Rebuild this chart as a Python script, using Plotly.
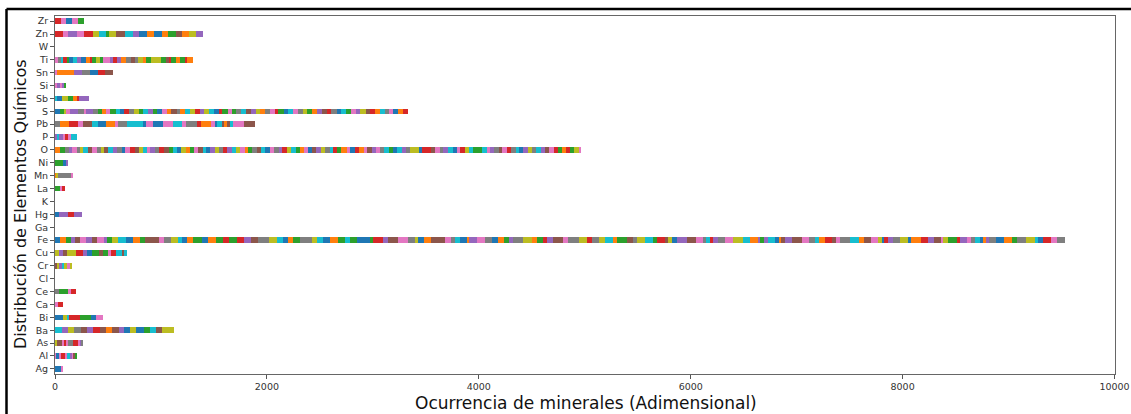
import numpy as np
import plotly.graph_objects as go

# Chemical elements on the vertical axis (bottom to top)
elements = ["Ag", "Al", "As", "Ba", "Bi", "Ca", "Ce", "Cl", "Cr", "Cu", "Fe", "Ga",
            "Hg", "K", "La", "Mn", "Ni", "O", "P", "Pb", "S", "Sb", "Si", "Sn",
            "Ti", "W", "Zn", "Zr"]

# Per-element mineral occurrences (one stacked segment per mineral) and the
# colour letter of each segment
seg_Ag = [63, 13]
col_Ag = "bk"
seg_Al = [13, 25, 19, 38, 19, 31, 13, 19, 13, 16]
col_Al = "kbkrkcpkng"
seg_As = [22, 47, 16, 19, 22, 47, 47, 16, 16, 16]
col_As = "lnkrkyrkpy"
seg_Ba = [63, 63, 54, 63, 57, 63, 57, 60, 57, 63, 54, 57, 57, 69, 57, 57, 63, 110]
col_Ba = "cplynprnonpblbgcnl"
seg_Bi = [72, 47, 16, 101, 101, 47, 72]
col_Bi = "blcrgbk"
seg_Ca = [31, 47]
col_Ca = "kr"
seg_Ce = [41, 79, 28, 50]
col_Ce = "ygkr"
seg_Cl = []
col_Cl = ""
seg_Cr = [16, 25, 22, 22, 25, 31, 22]
col_Cr = "nlpclkl"
seg_Cu = [41, 38, 31, 88, 69, 38, 41, 72, 31, 47, 31, 47, 63, 16, 22]
col_Cu = "lpnlrpbgngkrcnc"
seg_Fe = [47, 57, 44, 41, 47, 57, 54, 54, 57, 31, 47, 54, 82, 63, 69, 47, 126, 47, 69, 72,
          31, 47, 63, 79, 63, 72, 63, 63, 69, 69, 63, 72, 104, 69, 63, 47, 47, 63, 110, 47,
          57, 69, 79, 63, 47, 63, 126, 31, 89,
          54, 94, 94, 63, 31, 54, 63, 135, 54, 41, 47, 63, 25, 69, 79, 63, 63, 54, 50, 38,
          94, 79, 47, 63, 31, 63, 88, 54, 104, 69, 47, 72, 54, 72, 38, 94, 63, 38, 72, 72,
          44, 72, 31, 31, 54, 94, 82, 63, 31, 38, 31, 47, 63, 79, 94, 63, 79, 16,
          38, 41, 63, 41, 13, 41, 63, 94, 72, 54, 41, 54, 63, 41, 38, 94, 88, 44, 63, 72,
          31, 22, 41, 47, 63, 72, 28, 94, 66, 60, 63, 25, 47, 79, 31, 63, 38, 41, 47, 31,
          25, 31, 69, 69, 79, 47, 82, 85, 31, 47, 79, 57, 67]
col_Fe = ("bogpnkpnkpglcbognkylcbogbogrgrpnylcbogylcbogcgbg" + "r"
          + "pnkylbonkycbopkybogpylogrpnkylrylcognylcgrnlbpnkycrpyklcop"
          + "gpcbonpnkycornkyconklbrpylborpnklgrpkycbopybogylcbrky")
seg_Ga = []
col_Ga = ""
seg_Hg = [41, 79, 60, 79]
col_Hg = "bprp"
seg_K = []
col_K = ""
seg_La = [47, 22, 28]
col_La = "gkr"
seg_Mn = [16, 16, 120, 9]
col_Mn = "olyk"
seg_Ni = [72, 31, 22]
col_Ni = "gbp"
seg_O = [44, 47, 38, 35, 41, 32, 30, 44, 38, 47,
         35, 28, 44, 41, 38, 50, 32, 41, 47, 38,
         41, 38, 32, 47, 35, 44, 50, 38, 35, 41,
         47, 32, 38, 44, 41, 28, 38, 50, 35, 44,
         38, 44, 35, 41, 47, 32, 38, 44, 41, 35,
         44, 38, 50, 32, 41, 38, 47, 35, 41, 38,
         35, 41, 44, 38, 47, 32, 41, 38, 50, 35,
         41, 38, 47, 35, 44, 32, 38, 41, 50, 35,
         38, 44, 41, 35, 47, 38, 32, 44, 41, 38,
         44, 35, 41, 50, 38, 32, 44, 41, 35, 38,
         41, 47, 35, 38, 44, 32, 41, 38, 47, 35,
         38, 44, 41, 35, 50, 32, 38, 44, 41, 38,
         35, 41, 38, 44, 20]
col_O = ("ogypkylcnkylncpybkrnlckpyrngcblogkncbplyrpclkogyncbkyprlcgok"
         "bnplycrgokbroknpkycgbcpyllbrrnkypcbkrlcggckpynkrycbplycpnkrgorglk")
seg_P = [22, 19, 31, 22, 25, 31, 54]
col_P = "pcpkrkc"
seg_Pb = [47, 85, 82, 47, 85, 63, 72, 85, 31, 85, 151, 25, 69, 94, 94, 88, 38, 101,
          35, 91, 41, 22, 41, 22, 25, 31, 31, 101, 110]
col_Pb = "yorkncbokycbkbkckyrokbcnonckn"
seg_S = [47, 38, 19, 35, 79, 54, 22, 63, 50, 38,
         41, 35, 50, 44, 38, 47, 41, 54, 35, 44,
         50, 38, 47, 44, 41, 54, 35, 47, 41, 50,
         44, 38, 54, 41, 47, 35, 50, 44, 38, 47,
         41, 50, 44, 38, 54, 47, 41, 35, 50, 44,
         47, 41, 54, 38, 44, 50, 41, 47, 38, 54,
         44, 50, 41, 47, 38, 54, 44, 41, 50, 47,
         41, 38, 47, 50, 44]
col_S = "bglkpykpygokgcbrylgcpgbkonyoclrplcbrgkgycnploykrgbckylgopnrybcgkplnrocykbor"
seg_Sb = [22, 41, 63, 41, 38, 22, 91]
col_Sb = "cblgorp"
seg_Si = [22, 25, 25, 16, 16]
col_Si = "kpkpg"
seg_Sn = [22, 157, 72, 79, 79, 63, 72]
col_Sn = "kopybrn"
seg_Ti = [31, 22, 25, 31, 25, 38, 31, 47, 47, 31, 25, 38, 31, 31, 63, 31, 38, 41, 47, 47,
          31, 31, 47, 31, 47, 94, 47, 25, 22, 47, 38, 47, 16, 57]
col_Ti = "kycrgbcpborglgkprpoynyloglgnrgogro"
seg_W = []
col_W = ""
seg_Zn = [72, 54, 79, 69, 82, 63, 63, 31, 63, 85, 79, 57, 69, 69, 72, 63, 69, 57, 72, 63, 63]
col_Zn = "rkpkrlcglncpbobognolp"
seg_Zr = [55, 50, 55, 55, 60]
col_Zr = "rkbkg"

x_ticks = [0, 2000, 4000, 6000, 8000, 10000]
x_title = "Ocurrencia de minerales (Adimensional)"
y_title = "Distribución de Elementos Químicos"

# tab10 palette keyed by the colour letters above
palette = {
    "b": "#1f77b4", "o": "#ff7f0e", "g": "#2ca02c", "r": "#d62728", "p": "#9467bd",
    "n": "#8c564b", "k": "#e377c2", "y": "#7f7f7f", "l": "#bcbd22", "c": "#17becf",
}

ns = globals()
ys, xs, bases, colors = [], [], [], []
totals = []
for el in elements:
    widths = np.array(ns["seg_" + el], dtype=float)
    letters = ns["col_" + el]
    starts = np.concatenate([[0.0], np.cumsum(widths)[:-1]]) if len(widths) else np.array([])
    totals.append(widths.sum())
    for i, (w, s) in enumerate(zip(widths, starts)):
        ys.append(el)
        xs.append(w)
        bases.append(s)
        colors.append(palette[letters[i % len(letters)]])

fig = go.Figure()
fig.add_trace(go.Bar(
    y=ys, x=xs, base=bases, orientation="h",
    marker=dict(color=colors, line=dict(width=0)),
    width=0.43, showlegend=False,
    hovertemplate="%{y}: %{x}<extra></extra>",
))

W, H = 1131, 414
ml, mr, mt, mb = 55, 16, 16, 40
pw, ph = W - ml - mr, H - mt - mb

def px_x(p):
    return (p - ml) / pw

def px_y(p):
    return (H - mb - p) / ph

axis_font = dict(family="DejaVu Sans", size=9.5, color="#333333")
x_title_font = dict(family="DejaVu Sans", size=17, color="#111111")
y_title_font = dict(family="DejaVu Sans", size=16, color="#111111")

fig.update_layout(
    width=W, height=H,
    margin=dict(l=ml, r=mr, t=mt, b=mb, autoexpand=False),
    paper_bgcolor="white", plot_bgcolor="white",
    barmode="overlay", bargap=0,
    font=dict(family="DejaVu Sans"),
    xaxis=dict(
        range=[0, max(totals) * 1.05],
        tickmode="array", tickvals=x_ticks, ticktext=[str(v) for v in x_ticks],
        ticks="outside", ticklen=4, tickcolor="#555555", tickwidth=1,
        showline=True, mirror=True, linecolor="#666666", linewidth=1,
        showgrid=False, zeroline=False, tickfont=axis_font,
        automargin=False,
    ),
    yaxis=dict(
        type="category", categoryorder="array", categoryarray=elements,
        range=[-0.4, len(elements) - 0.6],
        ticks="outside", ticklen=4, tickcolor="#555555", tickwidth=1,
        showline=True, mirror=True, linecolor="#666666", linewidth=1,
        showgrid=False, zeroline=False, tickfont=axis_font,
        automargin=False,
    ),
    annotations=[
        dict(text=x_title, xref="paper", yref="paper", x=px_x(586), y=px_y(403),
             xanchor="center", yanchor="middle", showarrow=False, font=x_title_font),
        dict(text=y_title, xref="paper", yref="paper", x=px_x(20), y=px_y(204),
             xanchor="center", yanchor="middle", textangle=-90, showarrow=False,
             font=y_title_font),
    ],
    shapes=[
        dict(type="line", xref="paper", yref="paper", x0=px_x(6.5), x1=px_x(W + 2),
             y0=px_y(9), y1=px_y(9), line=dict(color="black", width=2.5)),
        dict(type="line", xref="paper", yref="paper", x0=px_x(6.5), x1=px_x(6.5),
             y0=px_y(9), y1=px_y(H + 2), line=dict(color="black", width=2.5)),
    ],
)

fig.write_html("out.html")
